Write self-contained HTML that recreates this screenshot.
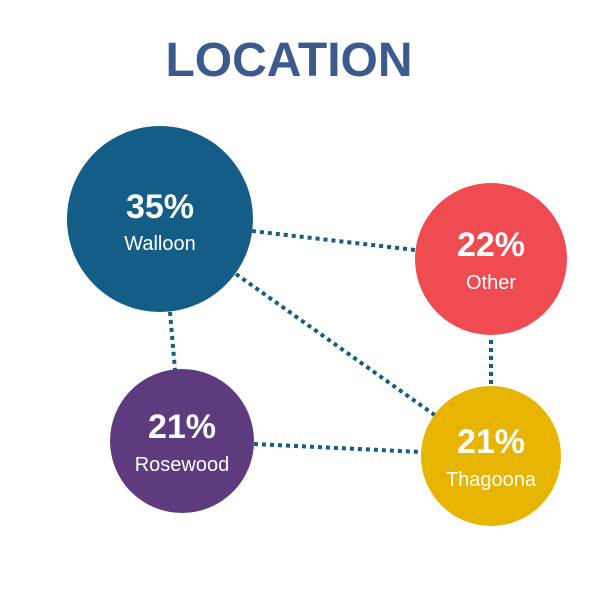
<!DOCTYPE html>
<html><head><style>body{margin:0;background:#fff}</style></head><body>
<svg width="600" height="600" xmlns="http://www.w3.org/2000/svg" font-family="Liberation Sans, sans-serif">
<rect width="600" height="600" fill="#fff"/>
<text x="289" y="76" text-anchor="middle" font-size="48" font-weight="bold" fill="#3d5a8c">LOCATION</text>
<g stroke="#135d87" stroke-width="4" stroke-dasharray="4 4" fill="none">
<line x1="252" y1="231" x2="415" y2="250"/>
<line x1="236" y1="274" x2="436" y2="416"/>
<line x1="170" y1="312" x2="175" y2="370"/>
<line x1="254" y1="444" x2="421" y2="452"/>
<line x1="491" y1="340" x2="491" y2="386"/>
</g>
<circle cx="160" cy="219" r="93" fill="#135d87"/>
<circle cx="491" cy="259" r="76" fill="#ef4b51"/>
<circle cx="182" cy="441" r="72" fill="#5e3a7f"/>
<circle cx="491" cy="456" r="70" fill="#e7b400"/>
<g fill="#fff" text-anchor="middle">
<text x="160" y="218" font-size="34" font-weight="bold">35%</text>
<text x="160" y="250" font-size="20">Walloon</text>
<text x="491" y="256" font-size="34" font-weight="bold">22%</text>
<text x="491" y="289" font-size="20">Other</text>
<text x="182" y="438" font-size="34" font-weight="bold">21%</text>
<text x="182" y="471" font-size="20">Rosewood</text>
<text x="491" y="453" font-size="34" font-weight="bold">21%</text>
<text x="491" y="486" font-size="20">Thagoona</text>
</g>
</svg>
</body></html>
